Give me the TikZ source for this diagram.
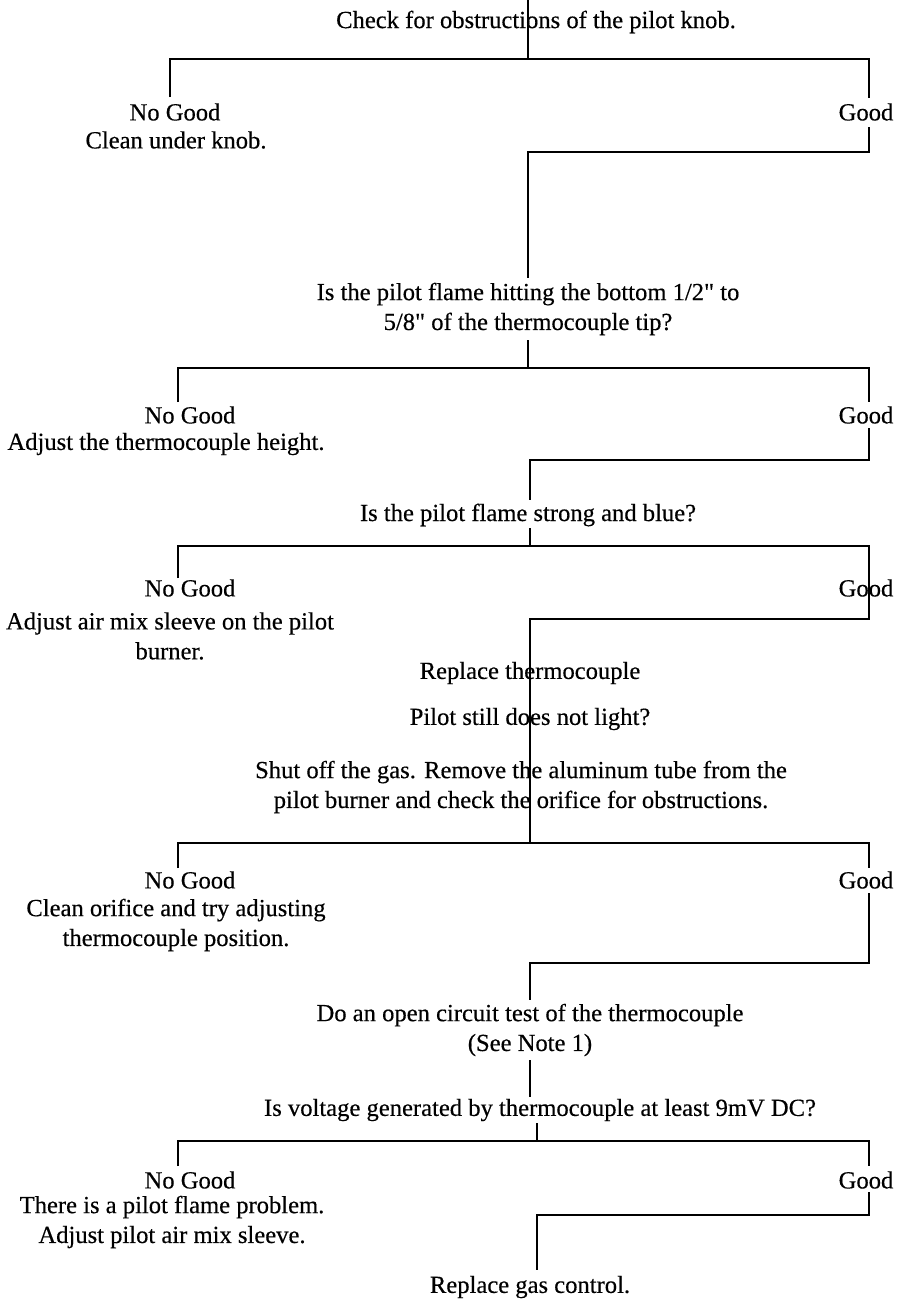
\documentclass[tikz,border=0pt]{standalone}
\usepackage{fontspec}
\setmainfont{Liberation Serif}[FakeBold=0.4]
\usetikzlibrary{positioning}
\tikzset{
    steptext/.style={
        align=center,
        inner sep=1pt,
        font=\fontsize{14}{17}\selectfont
    },
    flow/.style={
        draw,
        line width=1.5pt
    }
}

\begin{document}
\begin{tikzpicture}[x=0.02cm, y=-0.02cm]
  \useasboundingbox (0,0) rectangle (905,1302);

  % Step 1: pilot knob
  \coordinate (t0) at (528,0);
  \coordinate (h1) at (528,59);
  \coordinate (l1a) at (170,59);
  \coordinate (l1b) at (170,97);
  \coordinate (r1a) at (869,59);
  \coordinate (r1b) at (869,98);
  \coordinate (r1c) at (869,127);
  \coordinate (r1d) at (869,152);
  \coordinate (d1) at (528,152);
  \coordinate (d1b) at (528,278);
  \draw[flow] (t0) -- (h1);
  \draw[flow] (l1b) -- (l1a) -- (r1a) -- (r1b);
  \draw[flow] (r1c) -- (r1d) -- (d1) -- (d1b);
  \node[steptext] (check) at (536,22) {Check for obstructions of the pilot knob.};
  \node[steptext] (ng1) at (175,112) {No Good};
  \node[steptext] (fix1) at (176,140) {Clean under knob.};
  \node[steptext] (good1) at (866,112) {Good};

  % Step 2: flame height
  \node[steptext] (tip) at (528,309) {Is the pilot flame hitting the bottom 1/2\textquotedbl{} to\\5/8\textquotedbl{} of the thermocouple tip?};
  \coordinate (d2a) at (528,340);
  \coordinate (h2) at (528,368);
  \coordinate (l2a) at (178,368);
  \coordinate (l2b) at (178,402);
  \coordinate (r2a) at (869,368);
  \coordinate (r2b) at (869,402);
  \coordinate (r2c) at (869,428);
  \coordinate (r2d) at (869,460);
  \coordinate (d2) at (530,460);
  \coordinate (d2b) at (530,500);
  \draw[flow] (d2a) -- (h2);
  \draw[flow] (l2b) -- (l2a) -- (r2a) -- (r2b);
  \draw[flow] (r2c) -- (r2d) -- (d2) -- (d2b);
  \node[steptext] (ng2) at (190,415) {No Good};
  \node[steptext] (fix2) at (166,444) {Adjust the thermocouple height.};
  \node[steptext] (good2) at (866,415) {Good};

  % Step 3: flame colour
  \node[steptext] (blue) at (528,515) {Is the pilot flame strong and blue?};
  \coordinate (d3a) at (530,528);
  \coordinate (h3) at (530,546);
  \coordinate (l3a) at (178,546);
  \coordinate (l3b) at (178,578);
  \coordinate (r3a) at (869,546);
  \coordinate (r3d) at (869,619);
  \coordinate (d3) at (530,619);
  \coordinate (h4) at (530,843);
  \draw[flow] (d3a) -- (h3);
  \draw[flow] (l3b) -- (l3a) -- (r3a) -- (r3d) -- (d3) -- (h4);
  \node[steptext] (ng3) at (190,588) {No Good};
  \node[steptext] (fix3) at (170,636) {Adjust air mix sleeve on the pilot\\burner.};
  \node[steptext] (good3) at (866,588) {Good};

  % Replace thermocouple, orifice check
  \node[steptext] (repl) at (530,673) {Replace thermocouple};
  \node[steptext] (still) at (530,719) {Pilot still does not light?};
  \node[steptext] (orif) at (521,787) {Shut off the gas. Remove the aluminum tube from the\\pilot burner and check the orifice for obstructions.};

  % Step 4: orifice
  \coordinate (l4a) at (178,843);
  \coordinate (l4b) at (178,868);
  \coordinate (r4a) at (869,843);
  \coordinate (r4b) at (869,868);
  \coordinate (r4c) at (869,893);
  \coordinate (r4d) at (869,963);
  \coordinate (d4) at (530,963);
  \coordinate (d4b) at (530,1000);
  \draw[flow] (l4b) -- (l4a) -- (r4a) -- (r4b);
  \draw[flow] (r4c) -- (r4d) -- (d4) -- (d4b);
  \node[steptext] (ng4) at (190,880) {No Good};
  \node[steptext] (fix4) at (176,925) {Clean orifice and try adjusting\\thermocouple position.};
  \node[steptext] (good4) at (866,880) {Good};

  % Step 5: open circuit test
  \node[steptext] (test) at (530,1030) {Do an open circuit test of the thermocouple\\(See Note 1)};
  \coordinate (d5a) at (530,1060);
  \coordinate (d5b) at (530,1097);
  \draw[flow] (d5a) -- (d5b);
  \node[steptext] (volt) at (540,1110) {Is voltage generated by thermocouple at least 9mV DC?};
  \coordinate (d6a) at (537,1123);
  \coordinate (h6) at (537,1141);
  \coordinate (l6a) at (178,1141);
  \coordinate (l6b) at (178,1166);
  \coordinate (r6a) at (869,1141);
  \coordinate (r6b) at (869,1166);
  \coordinate (r6c) at (869,1192);
  \coordinate (r6d) at (869,1215);
  \coordinate (d6) at (537,1215);
  \coordinate (d6b) at (537,1270);
  \draw[flow] (d6a) -- (h6);
  \draw[flow] (l6b) -- (l6a) -- (r6a) -- (r6b);
  \draw[flow] (r6c) -- (r6d) -- (d6) -- (d6b);
  \node[steptext] (ng6) at (190,1180) {No Good};
  \node[steptext] (fix6) at (172,1222) {There is a pilot flame problem.\\Adjust pilot air mix sleeve.};
  \node[steptext] (good6) at (866,1180) {Good};
  \node[steptext] (gas) at (530,1287) {Replace gas control.};
\end{tikzpicture}
\end{document}
